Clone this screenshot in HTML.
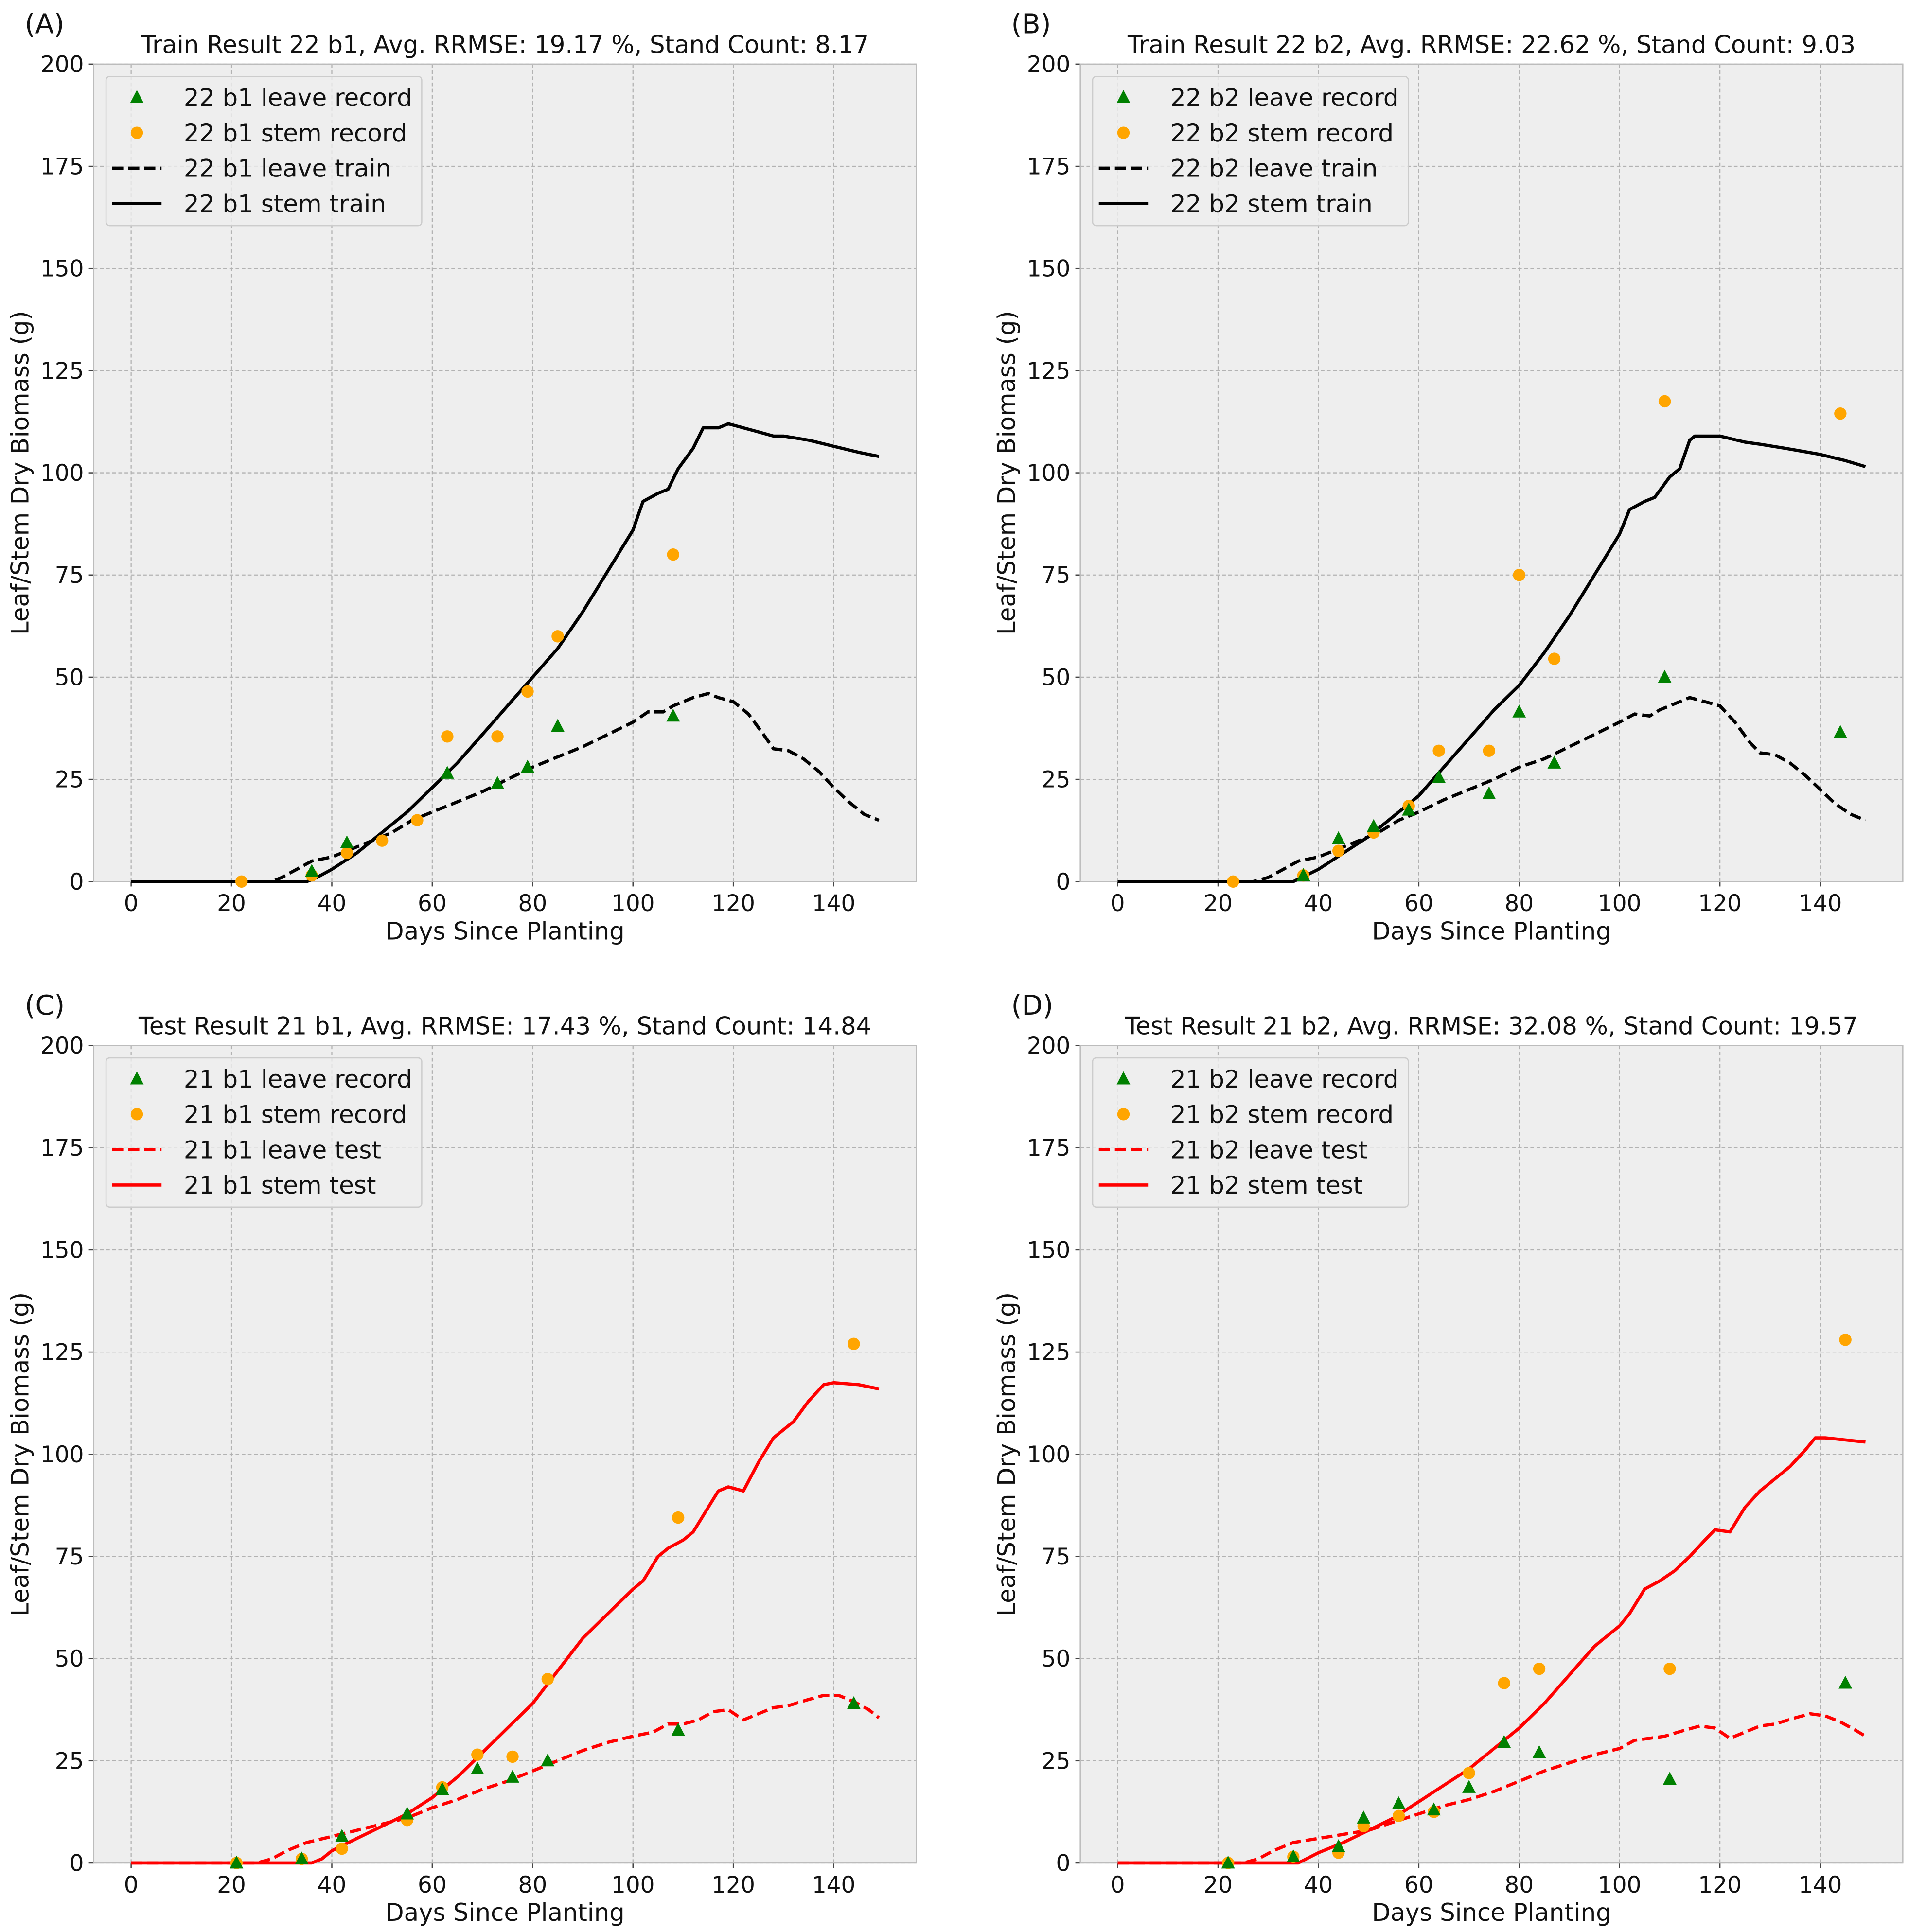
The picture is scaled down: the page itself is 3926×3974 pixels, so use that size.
<!DOCTYPE html>
<html><head><meta charset="utf-8"><style>
html,body{margin:0;padding:0;background:#fff;}
svg{display:block;font-family:"DejaVu Sans","Liberation Sans",sans-serif;}
</style></head><body>
<svg id="fig" width="3926" height="3974" viewBox="0 0 1548 1567" preserveAspectRatio="none" xmlns="http://www.w3.org/2000/svg">
<rect x="0" y="0" width="1548" height="1567" fill="#fff"/>
</svg>
<script>
const days_A_stem=[0,35,37,40,45,50,55,60,65,70,75,80,85,90,95,100,102,105,107,109,112,114,117,119,122,125,128,130,135,140,145,149];
const vals_A_stem=[0,0,1,3,7,12,17,23,29,36,43,50,57,66,76,86,93,95,96,101,106,111,111,112,111,110,109,109,108,106.5,105,104];
const days_A_leaf=[0,28,30,33,36,40,44,48,52,56,60,65,70,75,80,85,90,95,100,103,106,108,112,115,117,120,123,126,128,131,134,137,140,143,146,149];
const vals_A_leaf=[0,0,1,3,5,6,8,10,12,15,17,19.5,22,25,28,30.5,33,36,39,41.5,41.5,43,45,46,45,44,41,36,32.5,32,30,27,23,19.5,16.5,15];
const recLeafDays_A=[36,43,63,73,79,85,108];
const recLeafVals_A=[2.5,9.5,26.5,24,28,38,40.5];
const recStemDays_A=[22,36,43,50,57,63,73,79,85,108];
const recStemVals_A=[0,1.5,7,10,15,35.5,35.5,46.5,60,80];

const days_B_stem=[0,35,40,45,50,55,60,65,70,75,80,85,90,95,100,102,105,107,110,112,114,115,118,120,125,128,133,140,145,149];
const vals_B_stem=[0,0,3,7,11,16,21,28,35,42,48,56,65,75,85,91,93,94,99,101,108,109,109,109,107.5,107,106,104.5,103,101.5];
const days_B_leaf=[0,27,30,33,36,40,44,48,52,56,60,65,70,75,80,85,90,95,100,103,106,108,112,114,117,120,123,126,128,131,134,137,140,143,146,149];
const vals_B_leaf=[0,0,1,3,5,6,8,10,12,15,17,20,22.5,25,28,30,33,36,39,41,40.5,42,44,45,44,43,39,34,31.5,31,29,26,22.5,19,16.5,15];
const recLeafDays_B=[37,44,51,58,64,74,80,87,109,144];
const recLeafVals_B=[1.5,10.5,13.5,17.5,25.5,21.5,41.5,29,50,36.5];
const recStemDays_B=[23,37,44,51,58,64,74,80,87,109,144];
const recStemVals_B=[0,1.5,7.5,12,18.5,32,32,75,54.5,117.5,114.5];

const days_C_stem=[0,36,38,40,45,50,55,60,65,70,75,80,85,90,95,100,102,105,107,110,112,115,117,119,122,125,128,132,135,138,140,145,149];
const vals_C_stem=[0,0,1,3,6,9,12,16,21,27,33,39,47,55,61,67,69,75,77,79,81,87,91,92,91,98,104,108,113,117,117.5,117,116];
const days_C_leaf=[0,25,28,31,35,40,45,50,55,60,65,70,75,80,85,90,95,100,104,107,110,113,116,119,122,125,128,131,135,138,141,144,147,149];
const vals_C_leaf=[0,0,1,3,5,6.5,8,9.5,11,13.5,15.5,18,20,22.5,25,27.5,29.5,31,32,34,34,35,37,37.5,35,36.5,38,38.5,40,41,41,39.5,37.5,35.5];
const recLeafDays_C=[21,34,42,55,62,69,76,83,109,144];
const recLeafVals_C=[0,1,6.5,12,18,23,21,25,32.5,39];
const recStemDays_C=[21,34,42,55,62,69,76,83,109,144];
const recStemVals_C=[0,1,3.5,10.5,18.5,26.5,26,45,84.5,127];

const days_D_stem=[0,36,40,45,50,55,60,65,70,75,80,85,90,95,100,102,105,108,111,114,117,119,122,125,128,131,134,137,139,141,145,149];
const vals_D_stem=[0,0,2.5,5,8,11,15,19,23,28,33,39,46,53,58,61,67,69,71.5,75,79,81.5,81,87,91,94,97,101,104,104,103.5,103];
const days_D_leaf=[0,25,28,31,35,40,45,50,55,60,65,70,75,80,85,90,95,100,103,106,109,113,116,119,122,125,128,131,135,138,141,144,147,149];
const vals_D_leaf=[0,0,1,3,5,6,7,8,10,12,14,15.5,17.5,20,22.5,24.5,26.5,28,30,30.5,31,32.5,33.5,33,30.5,32,33.5,34,35.5,36.5,36,34.5,32.5,31];
const recLeafDays_D=[22,35,44,49,56,63,70,77,84,110,145];
const recLeafVals_D=[0,1.5,4,11,14.5,13,18.5,29.5,27,20.5,44];
const recStemDays_D=[22,35,44,49,56,63,70,77,84,110,145];
const recStemVals_D=[0,1.5,2.5,9,11.5,12.5,22,44,47.5,47.5,128];

const xTicks=[0,20,40,60,80,100,120,140];
const yTicks=[0,25,50,75,100,125,150,175,200];

const NS="http://www.w3.org/2000/svg";
const svg=document.getElementById('fig');
function mk(tag,attrs,parent){const e=document.createElementNS(NS,tag);for(const k in attrs)e.setAttribute(k,attrs[k]);(parent||svg).appendChild(e);return e;}

const panels=[
 {id:'a',letter:'(A)',ox:0,oy:0,title:'Train Result 22 b1, Avg. RRMSE: 19.17 %, Stand Count: 8.17',tag:'22 b1',kind:'train',color:'#000',
  sd:days_A_stem,sv:vals_A_stem,ld:days_A_leaf,lv:vals_A_leaf,rld:recLeafDays_A,rlv:recLeafVals_A,rsd:recStemDays_A,rsv:recStemVals_A},
 {id:'b',letter:'(B)',ox:800,oy:0,title:'Train Result 22 b2, Avg. RRMSE: 22.62 %, Stand Count: 9.03',tag:'22 b2',kind:'train',color:'#000',
  sd:days_B_stem,sv:vals_B_stem,ld:days_B_leaf,lv:vals_B_leaf,rld:recLeafDays_B,rlv:recLeafVals_B,rsd:recStemDays_B,rsv:recStemVals_B},
 {id:'c',letter:'(C)',ox:0,oy:796,title:'Test Result 21 b1, Avg. RRMSE: 17.43 %, Stand Count: 14.84',tag:'21 b1',kind:'test',color:'#ff0000',
  sd:days_C_stem,sv:vals_C_stem,ld:days_C_leaf,lv:vals_C_leaf,rld:recLeafDays_C,rlv:recLeafVals_C,rsd:recStemDays_C,rsv:recStemVals_C},
 {id:'d',letter:'(D)',ox:800,oy:796,title:'Test Result 21 b2, Avg. RRMSE: 32.08 %, Stand Count: 19.57',tag:'21 b2',kind:'test',color:'#ff0000',
  sd:days_D_stem,sv:vals_D_stem,ld:days_D_leaf,lv:vals_D_leaf,rld:recLeafDays_D,rlv:recLeafVals_D,rsd:recStemDays_D,rsv:recStemVals_D}
];

panels.forEach(p=>{
 const L=76+p.ox,R=743+p.ox,T=52+p.oy,B=715+p.oy;
 const xMin=-7.45,xMax=156.45;
 const X=d=>L+(d-xMin)/(xMax-xMin)*(R-L);
 const Y=v=>B-v/200*(B-T);
 const g=mk('g',{});
 
 
 const bg=mk('rect',{x:L,y:T,width:R-L,height:B-T,fill:'#eeeeee'},g);
 
 
 xTicks.forEach(t=>{
  const gl=mk('line',{x1:X(t),x2:X(t),y1:T,y2:B,stroke:'#b2b2b2','stroke-width':0.9,'stroke-dasharray':'3,2'},g);
  
  
  mk('line',{x1:X(t),x2:X(t),y1:B,y2:B+4,stroke:'#444','stroke-width':1},g);
  const tl=mk('text',{x:X(t),y:B+24,'font-size':18.5,'text-anchor':'middle',fill:'#111'},g);
  tl.textContent=t;
  
  
 });
 yTicks.forEach(t=>{
  const gl=mk('line',{x1:L,x2:R,y1:Y(t),y2:Y(t),stroke:'#b2b2b2','stroke-width':0.9,'stroke-dasharray':'3,2'},g);
  
  
  mk('line',{x1:L-4,x2:L,y1:Y(t),y2:Y(t),stroke:'#444','stroke-width':1},g);
  const tl=mk('text',{x:L-8,y:Y(t)+6.5,'font-size':18.5,'text-anchor':'end',fill:'#111'},g);
  tl.textContent=t;
  
  
 });
 const fr=mk('rect',{x:L,y:T,width:R-L,height:B-T,fill:'none',stroke:'#bcbcbc','stroke-width':1},g);
 
 
 const path=(ds,vs)=>ds.map((d,i)=>(i?'L':'M')+X(d).toFixed(1)+','+Y(vs[i]).toFixed(1)).join(' ');
 const sl=mk('path',{d:path(p.sd,p.sv),fill:'none',stroke:p.color,'stroke-width':2.6,'stroke-linejoin':'round'},g);
 
 
 const ll=mk('path',{d:path(p.ld,p.lv),fill:'none',stroke:p.color,'stroke-width':2.6,'stroke-dasharray':'9,4'},g);
 
 
 p.rsd.forEach((d,i)=>{
  const c=mk('circle',{cx:X(d),cy:Y(p.rsv[i]),r:5,fill:'#ffa500'},g);
  
  
 });
 p.rld.forEach((d,i)=>{
  const x=X(d),y=Y(p.rlv[i]);
  const t=mk('polygon',{points:`${x},${y-6} ${x-5.5},${y+4.5} ${x+5.5},${y+4.5}`,fill:'#008000'},g);
  
  
 });
 const ti=mk('text',{x:(L+R)/2,y:T-9,'font-size':19.6,'text-anchor':'middle',fill:'#111'},g);
 ti.textContent=p.title;
 
 
 const le=mk('text',{x:20+p.ox,y:27+p.oy,'font-size':22,fill:'#111'},g);
 le.textContent=p.letter;
 
 
 const xl=mk('text',{x:(L+R)/2,y:B+47,'font-size':19.6,'text-anchor':'middle',fill:'#111'},g);
 xl.textContent='Days Since Planting';
 
 
 const yl=mk('text',{x:0,y:0,'font-size':19.6,'text-anchor':'middle',fill:'#111',transform:`translate(${23+p.ox},${(T+B)/2}) rotate(-90)`},g);
 yl.textContent='Leaf/Stem Dry Biomass (g)';
 
 
 const lg=mk('g',{},g);
 
 
 mk('rect',{x:L+10,y:T+10,width:256,height:121,rx:3,fill:'#eeeeee',stroke:'#cccccc','stroke-width':1,'fill-opacity':0.8},lg);
 const ex=L+35, tx=L+73;
 const rows=[p.tag+' leave record',p.tag+' stem record',p.tag+' leave '+p.kind,p.tag+' stem '+p.kind];
 rows.forEach((r,i)=>{
  const y=T+27+i*28.7;
  const en=mk('g',{},lg);
  
  
  if(i===0) mk('polygon',{points:`${ex},${y-6} ${ex-5.5},${y+4.5} ${ex+5.5},${y+4.5}`,fill:'#008000'},en);
  if(i===1) mk('circle',{cx:ex,cy:y,r:5,fill:'#ffa500'},en);
  if(i===2) mk('line',{x1:ex-20,x2:ex+20,y1:y,y2:y,stroke:p.color,'stroke-width':2.6,'stroke-dasharray':'9,4'},en);
  if(i===3) mk('line',{x1:ex-20,x2:ex+20,y1:y,y2:y,stroke:p.color,'stroke-width':2.6},en);
  const t=mk('text',{x:tx,y:y+7,'font-size':19.7,fill:'#111'},en);
  t.textContent=r;
 });
});
</script>
</body></html>
